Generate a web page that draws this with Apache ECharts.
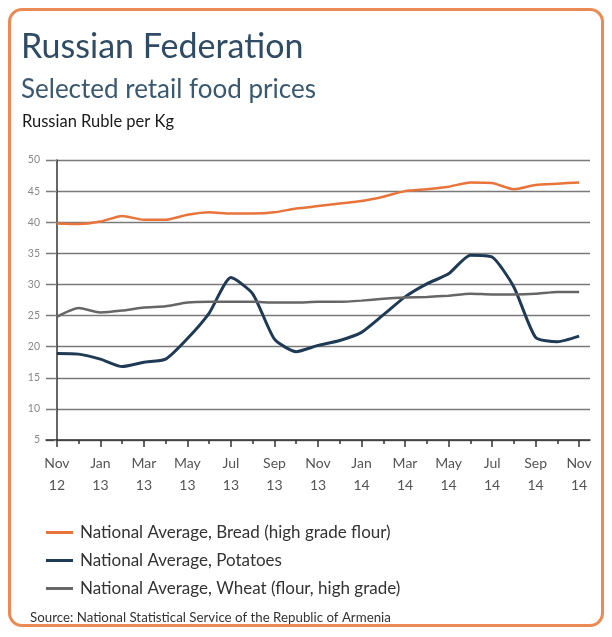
<!DOCTYPE html>
<html>
<head>
<meta charset="utf-8">
<script src="https://cdn.jsdelivr.net/npm/echarts@6/dist/echarts.min.js"></script>
<style>
  html, body { margin: 0; padding: 0; background: #fff; }
  #frame {
    position: absolute; left: 8px; top: 8px; width: 596px; height: 619px;
    border: 3px solid #ec8a55; border-radius: 14px; box-sizing: border-box;
  }
  #chart { position: absolute; left: 0; top: 0; width: 612px; height: 637px; }
</style>
</head>
<body>
<div id="frame"></div>
<div id="chart"></div>
<script>
// 月份 (Nov 2012 - Nov 2014)
const months = ['Nov 12', 'Dec 12', 'Jan 13', 'Feb 13', 'Mar 13', 'Apr 13', 'May 13', 'Jun 13', 'Jul 13',
  'Aug 13', 'Sep 13', 'Oct 13', 'Nov 13', 'Dec 13', 'Jan 14', 'Feb 14', 'Mar 14', 'Apr 14', 'May 14',
  'Jun 14', 'Jul 14', 'Aug 14', 'Sep 14', 'Oct 14', 'Nov 14']

const bread = [39.8, 39.7, 40.1, 41.0, 40.4, 40.4, 41.2, 41.6, 41.4, 41.4, 41.6, 42.2, 42.6,
  43.0, 43.4, 44.1, 45.0, 45.3, 45.7, 46.4, 46.3, 45.3, 46.0, 46.2, 46.4]
const potatoes = [18.9, 18.8, 18.0, 16.8, 17.5, 18.0, 21.3, 25.4, 31.1, 28.5, 21.2, 19.2, 20.2,
  21.0, 22.3, 25.1, 28.0, 30.1, 31.7, 34.7, 34.4, 29.6, 21.5, 20.8, 21.7]
const wheat = [24.8, 26.2, 25.5, 25.8, 26.3, 26.5, 27.1, 27.2, 27.2, 27.2, 27.1, 27.1, 27.2,
  27.2, 27.4, 27.7, 27.9, 28.0, 28.2, 28.5, 28.4, 28.4, 28.5, 28.8, 28.8]

const seriesNames = ['National Average, Bread (high grade flour)', 'National Average, Potatoes',
  'National Average, Wheat (flour, high grade)']

const FONT = 'Lato, "Noto Sans", sans-serif'
const majorIdx = months.map((m, i) => i).filter(i => i % 2 === 0)
const minorIdx = months.map((m, i) => i).filter(i => i % 2 === 1)
const toPts = arr => arr.map((v, i) => [i, v])

const myChart = echarts.init(document.getElementById('chart'))
const option = {
  animation: false,
  textStyle: { fontFamily: FONT },
  graphic: [
    { type: 'text', left: 21, top: 30, style: { text: 'Russian Federation', font: '34px ' + FONT, fill: '#2f4c64' } },
    { type: 'text', left: 21, top: 77, style: { text: 'Selected retail food prices', font: '26px ' + FONT, fill: '#3a5870' } },
    { type: 'text', left: 22, top: 113, style: { text: 'Russian Ruble per Kg', font: '16.5px ' + FONT, fill: '#1a1a1a' } },
    { type: 'text', left: 30, top: 611, style: { text: 'Source: National Statistical Service of the Republic of Armenia', font: '13.3px ' + FONT, fill: '#333' } }
  ],
  grid: { left: 46, right: 22, top: 160, bottom: 197 },
  legend: {
    orient: 'vertical', left: 41, top: 518, icon: 'rect', itemWidth: 27, itemHeight: 3, itemGap: 9,
    textStyle: { fontSize: 17, color: '#333', lineHeight: 19, padding: [0, 0, 0, 2] },
    data: seriesNames
  },
  xAxis: [
    {
      type: 'value', min: -0.5, max: 24.5,
      axisLine: { lineStyle: { color: '#333', width: 1.5 } },
      splitLine: { show: false },
      axisTick: { customValues: majorIdx, length: 7, lineStyle: { color: '#333', width: 1.5 } },
      axisLabel: {
        customValues: majorIdx, margin: 12, fontSize: 14, lineHeight: 22, color: '#555',
        formatter: v => months[Math.round(v)].replace(' ', '\n')
      }
    },
    {
      type: 'value', min: -0.5, max: 24.5, position: 'bottom',
      axisLine: { show: false },
      splitLine: { show: false },
      axisTick: { customValues: minorIdx, length: 4, lineStyle: { color: '#333', width: 1.5 } },
      axisLabel: { show: false }
    }
  ],
  yAxis: {
    type: 'value', min: 5, max: 50, interval: 5,
    axisLine: { show: true, lineStyle: { color: '#333', width: 1.5 } },
    axisTick: { show: true, length: 3, lineStyle: { color: '#888' } },
    axisLabel: { fontSize: 10.5, color: '#888', margin: 6 },
    splitLine: { lineStyle: { color: '#7a7a7a', width: 1.4 } }
  },
  series: [
    { name: seriesNames[0], type: 'line', data: toPts(bread), showSymbol: false, smooth: 0.2,
      itemStyle: { color: '#e8743b' }, lineStyle: { width: 2.5, color: '#e8743b' } },
    { name: seriesNames[1], type: 'line', data: toPts(potatoes), showSymbol: false, smooth: 0.2,
      itemStyle: { color: '#1f3a55' }, lineStyle: { width: 3, color: '#1f3a55' } },
    { name: seriesNames[2], type: 'line', data: toPts(wheat), showSymbol: false, smooth: 0.2,
      itemStyle: { color: '#666' }, lineStyle: { width: 2.5, color: '#666' } }
  ]
}
option && myChart.setOption(option)
</script>
</body>
</html>
